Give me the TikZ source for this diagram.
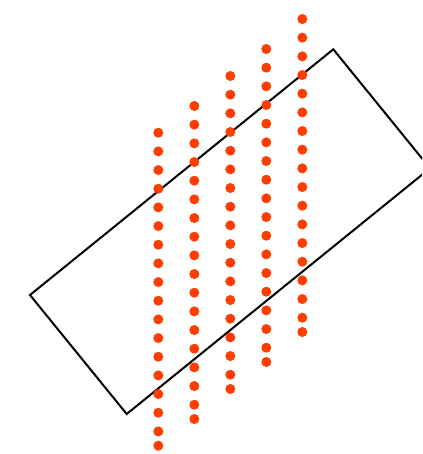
\documentclass[tikz,border=0pt]{standalone}
\definecolor{dotred}{RGB}{255,61,0}
\tikzset{
  dotmark/.style={fill=dotred, draw=none},
  frame/.style={draw=black, line width=2pt, line join=miter}
}
\begin{document}
\begin{tikzpicture}[x=1pt,y=-1pt]
\useasboundingbox (0,0) rectangle (422,454);
\clip (0,0) rectangle (422,454);
\coordinate (L) at (30,295);
\coordinate (T) at (333.3,49.3);
\coordinate (R) at (430,168.3);
\coordinate (B) at (126.7,414);
\draw[frame] (L) -- (T) -- (R) -- (B) -- cycle;
\foreach \c/\top in {0/132.7,1/106,2/76,3/49,4/19}{
  \pgfmathsetmacro{\xx}{158.3+36*\c}
  \foreach \i in {0,...,16}{
    \fill[dotmark] (\xx,{\top+18.67*\i}) circle (5);
  }
  \fill[dotmark] (\xx,{\top+313}) circle (5);
}
\end{tikzpicture}
\end{document}
